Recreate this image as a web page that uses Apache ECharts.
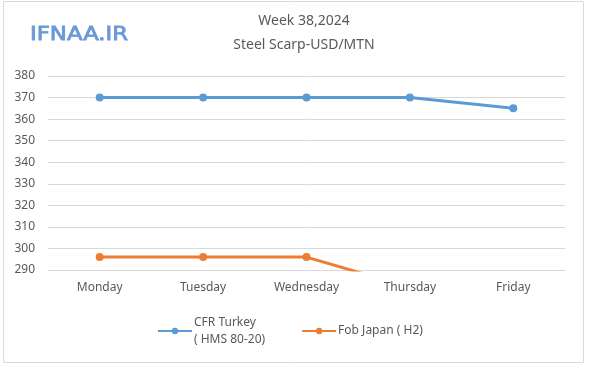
<!DOCTYPE html>
<html><head><meta charset="utf-8">
<script src="https://cdn.jsdelivr.net/npm/echarts@6/dist/echarts.min.js"></script>
<style>html,body{margin:0;padding:0;background:#fff}#c{width:600px;height:365px}</style>
</head><body><div id="c"></div>
<script>
const categories = ['Monday','Tuesday','Wednesday','Thursday','Friday'];
const cfrTurkey = [370,370,370,370,365];
const fobJapan = [296,296,296,282,282];
const seriesNames = ['CFR Turkey\n( HMS 80-20)','Fob Japan ( H2)'];
const titleLines = ['Week 38,2024','Steel Scarp-USD/MTN'];
const logoText = 'IFNAA.IR';

const chart = echarts.init(document.getElementById('c'));
const txt = '#595959';
chart.setOption({
  animation:false,
  graphic:[
    {type:'rect',shape:{x:3.5,y:1.5,width:580,height:361},style:{fill:'none',stroke:'#d9d9d9',lineWidth:1}},
    {type:'text',x:30,y:26,scaleX:1.2,originX:0,originY:0,style:{text:logoText,fontSize:19,fontFamily:'DejaVu Sans',fontWeight:'normal',fill:'#6a9ad6',stroke:'#6a9ad6',lineWidth:0.8,shadowColor:'rgba(0,0,0,0.45)',shadowOffsetX:1,shadowOffsetY:1,shadowBlur:2}}
  ],
  title:{text:titleLines.join('\n'),left:299,textAlign:'center',top:4,
    textStyle:{fontSize:14,fontWeight:'normal',color:txt,fontFamily:'Noto Sans',lineHeight:24}},
  grid:{left:48,right:35,top:76,bottom:95},
  legend:{bottom:12,left:152,itemWidth:34,itemHeight:8,itemGap:36,
    textStyle:{fontSize:12,color:txt,fontFamily:'Noto Sans',lineHeight:17,padding:[0,0,0,-3]},
    data:seriesNames},
  xAxis:{type:'category',data:categories,boundaryGap:true,
    axisLine:{show:false},axisTick:{show:false},
    axisLabel:{color:txt,fontSize:12,fontFamily:'Noto Sans',margin:12}},
  yAxis:{type:'value',min:290,max:380,interval:10,
    axisLine:{show:false},axisTick:{show:false},
    axisLabel:{color:txt,fontSize:12,fontFamily:'Noto Sans',margin:13},
    splitLine:{lineStyle:{color:'#d9d9d9'}}},
  series:[
    {name:seriesNames[0],type:'line',data:cfrTurkey,symbol:'circle',symbolSize:8,
      lineStyle:{width:3,color:'#5b9bd5'},itemStyle:{color:'#5b9bd5'}},
    {name:seriesNames[1],type:'line',data:fobJapan,symbol:'circle',symbolSize:8,clip:true,
      lineStyle:{width:3,color:'#ed7d31'},itemStyle:{color:'#ed7d31'}}
  ]
});
</script></body></html>
